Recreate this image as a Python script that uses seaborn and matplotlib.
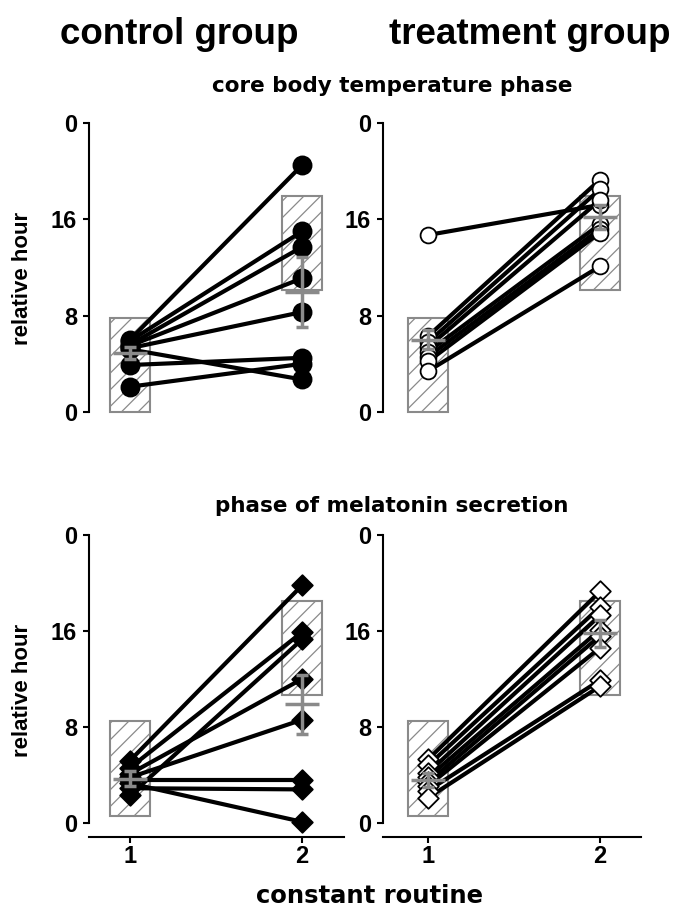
import numpy as np
import pandas as pd
import matplotlib
matplotlib.use("Agg")
import matplotlib.pyplot as plt
import seaborn as sns

# constant routine 1 / 2, one value per subject (relative hour)
ctrl_temp_cr1 = [6.0, 5.9, 5.6, 5.5, 5.3, 5.2, 3.9, 2.1]
ctrl_temp_cr2 = [20.5, 15.0, 13.7, 11.1, 8.3, 2.7, 4.5, 4.0]
treat_temp_cr1 = [14.7, 6.3, 5.8, 5.4, 5.0, 4.6, 4.2, 3.4]
treat_temp_cr2 = [17.2, 19.3, 18.5, 17.6, 15.6, 15.2, 14.9, 12.1]
ctrl_mel_cr1 = [5.2, 4.6, 2.3, 4.1, 3.8, 3.6, 2.9, 3.3]
ctrl_mel_cr2 = [19.8, 15.9, 15.3, 12.0, 8.6, 3.6, 2.8, 0.1]
treat_mel_cr1 = [5.3, 4.8, 4.2, 3.8, 3.4, 3.1, 2.7, 2.1]
treat_mel_cr2 = [19.3, 18.0, 17.3, 16.1, 15.6, 14.6, 11.9, 11.4]

# group mean and error (gray crosses)
ctrl_temp_mean = [4.9, 10.0]
ctrl_temp_err = [0.5, 2.9]
treat_temp_mean = [6.0, 16.2]
treat_temp_err = [0.8, 1.0]
ctrl_mel_mean = [3.7, 9.9]
ctrl_mel_err = [0.6, 2.45]
treat_mel_mean = [3.6, 15.8]
treat_mel_err = [0.6, 1.1]

# hatched reference boxes (low, high) at CR1 and CR2
temp_box_lo = [0.0, 10.1]
temp_box_hi = [7.8, 17.9]
mel_box_lo = [0.6, 10.7]
mel_box_hi = [8.5, 18.5]

cr = [1, 2]
ytick_vals = [0, 8, 16, 24]
ytick_labels = ["0", "8", "16", "0"]

sns.set_style("ticks")
plt.rcParams["font.family"] = ["Liberation Sans", "DejaVu Sans"]
plt.rcParams["hatch.linewidth"] = 0.9
for k in ["text.color", "axes.labelcolor", "xtick.color", "ytick.color", "axes.edgecolor"]:
    plt.rcParams[k] = "black"

W, H = 676, 911
fig = plt.figure(figsize=(W / 100, H / 100), dpi=100)
gray = "#8a8a8a"


def add_ax(left, right, top, bottom):
    return fig.add_axes([left / W, 1 - bottom / H, (right - left) / W, (bottom - top) / H])


panels = [
    (ctrl_temp_cr1, ctrl_temp_cr2, ctrl_temp_mean, ctrl_temp_err, temp_box_lo, temp_box_hi,
     "o", "black", 170, (89, 344, 123, 412), (0.762, 2.244), False),
    (treat_temp_cr1, treat_temp_cr2, treat_temp_mean, treat_temp_err, temp_box_lo, temp_box_hi,
     "o", "white", 130, (383, 641, 123, 412), (0.738, 2.238), False),
    (ctrl_mel_cr1, ctrl_mel_cr2, ctrl_mel_mean, ctrl_mel_err, mel_box_lo, mel_box_hi,
     "D", "black", 110, (89, 344, 535, 823), (0.762, 2.244), True),
    (treat_mel_cr1, treat_mel_cr2, treat_mel_mean, treat_mel_err, mel_box_lo, mel_box_hi,
     "D", "white", 110, (383, 641, 535, 823), (0.738, 2.238), True),
]

for v1, v2, mean, err, lo, hi, mk, fc, size, box, xl, bottom in panels:
    ax = add_ax(*box)
    n = len(v1)
    df = pd.DataFrame({
        "subject": list(range(n)) * 2,
        "cr": [1] * n + [2] * n,
        "hour": v1 + v2,
    })

    ax.bar(cr, np.array(hi) - np.array(lo), bottom=lo, width=0.23, facecolor="white",
           edgecolor=gray, hatch="//", linewidth=1.5, zorder=1, clip_on=False)
    sns.lineplot(data=df, x="cr", y="hour", units="subject", estimator=None,
                 color="black", lw=3, legend=False, ax=ax, zorder=2)
    sns.scatterplot(data=df, x="cr", y="hour", marker=mk, s=size, color=fc,
                    edgecolor="black", linewidth=1.3, legend=False, ax=ax,
                    zorder=3, clip_on=False)
    ax.errorbar(cr, mean, yerr=err, fmt="_", color=gray, ms=24, mew=2.5,
                elinewidth=2.5, capsize=4, capthick=2.5, zorder=5)

    ax.set_xlim(*xl)
    ax.set_ylim(0, 24)
    ax.set_yticks(ytick_vals)
    ax.set_yticklabels(ytick_labels, fontsize=17, fontweight="bold")
    ax.set_xlabel("")
    ax.set_ylabel("")
    sns.despine(ax=ax)
    ax.spines["left"].set_bounds(0, 24)
    ax.spines["left"].set_linewidth(1.5)
    ax.tick_params(axis="y", length=4.5, width=1.5, pad=4)
    if bottom:
        ax.spines["bottom"].set_position(("outward", 10))
        ax.spines["bottom"].set_linewidth(1.5)
        ax.set_xticks(cr)
        ax.set_xticklabels(["1", "2"], fontsize=17, fontweight="bold")
        ax.tick_params(axis="x", length=4, width=1.5, pad=2)
    else:
        ax.spines["bottom"].set_visible(False)
        ax.set_xticks([])

fig.text(179 / W, 1 - 35 / H, "control group", ha="center", va="center",
         fontsize=26.5, fontweight="bold")
fig.text(530 / W, 1 - 35 / H, "treatment group", ha="center", va="center",
         fontsize=26.5, fontweight="bold")
fig.text(392 / W, 1 - 86 / H, "core body temperature phase", ha="center", va="center",
         fontsize=15.5, fontweight="bold", family="DejaVu Sans")
fig.text(392 / W, 1 - 506 / H, "phase of melatonin secretion", ha="center", va="center",
         fontsize=15.5, fontweight="bold", family="DejaVu Sans")
fig.text(23 / W, 1 - 278 / H, "relative hour", ha="center", va="center", rotation=90,
         fontsize=16, fontweight="bold")
fig.text(23 / W, 1 - 690 / H, "relative hour", ha="center", va="center", rotation=90,
         fontsize=16, fontweight="bold")
fig.text(370 / W, 1 - 903 / H, "constant routine", ha="center", va="baseline",
         fontsize=17.5, fontweight="bold", family="DejaVu Sans")

fig.savefig("out.png", dpi=100)
